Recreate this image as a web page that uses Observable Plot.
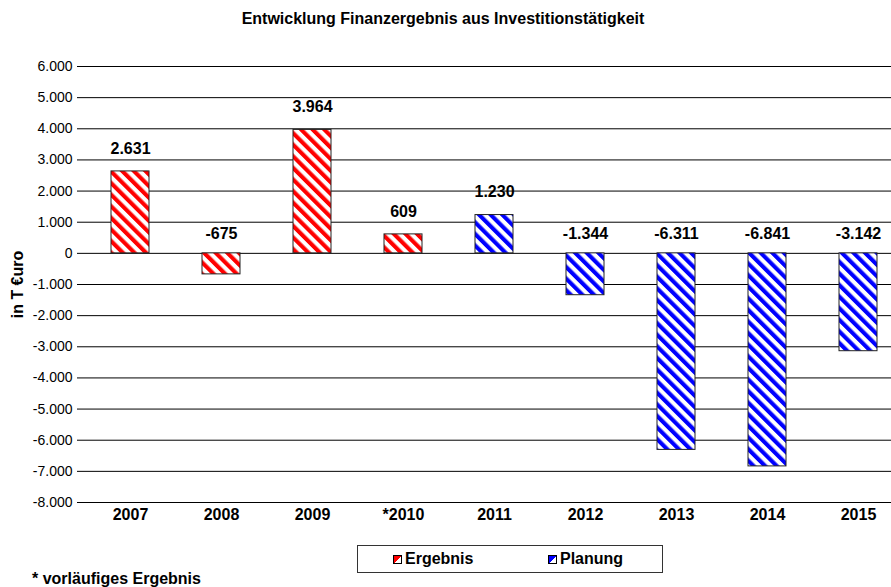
<!DOCTYPE html>
<html>
<head>
<meta charset="utf-8">
<script src="https://cdn.jsdelivr.net/npm/d3@7"></script>
<script src="https://cdn.jsdelivr.net/npm/@observablehq/plot@0.6"></script>
<style>
  html, body { margin: 0; padding: 0; background: #fff; }
  body { width: 891px; height: 587px; overflow: hidden; font-family: "Liberation Sans", Arial, sans-serif; color: #000; }
  #title { height: 40px; line-height: 38px; text-align: center; font-weight: bold; font-size: 16px; padding-right: 5px; box-sizing: border-box; }
  #bottom { position: relative; height: 57px; }
  #legend { position: absolute; left: 357px; top: 15px; width: 306px; height: 28px; box-sizing: border-box; border: 1px solid #333; }
  .item { position: absolute; top: 0; height: 26px; line-height: 26px; font-weight: bold; font-size: 16px; }
  .sw { position: absolute; top: 9px; left: 0; width: 9px; height: 9px; box-sizing: border-box; border: 1px solid #000; }
  .item span.t { position: absolute; left: 12px; white-space: nowrap; }
  #foot { position: absolute; left: 32px; top: 40px; line-height: 18px; font-weight: bold; font-size: 16px; white-space: nowrap; }
</style>
</head>
<body>
<div id="title">Entwicklung Finanzergebnis aus Investitionstätigkeit</div>
<div id="chart"></div>
<div id="bottom">
  <div id="legend"></div>
  <div id="foot"></div>
</div>
<script>
const categories = ["2007", "2008", "2009", "*2010", "2011", "2012", "2013", "2014", "2015"];
const values = [2631, -675, 3964, 609, 1230, -1344, -6311, -6841, -3142];
const series = ["Ergebnis", "Ergebnis", "Ergebnis", "Ergebnis", "Planung", "Planung", "Planung", "Planung", "Planung"];
const seriesNames = ["Ergebnis", "Planung"];
const seriesColors = ["#ff0000", "#0000ff"];
const yTicks = [-8000, -7000, -6000, -5000, -4000, -3000, -2000, -1000, 0, 1000, 2000, 3000, 4000, 5000, 6000];
const titleText = "Entwicklung Finanzergebnis aus Investitionstätigkeit";
const yLabel = "in T €uro";
const footnote = "* vorläufiges Ergebnis";

document.getElementById("title").textContent = titleText;
document.getElementById("foot").textContent = footnote;

const de = d3.formatLocale({decimal: ",", thousands: ".", grouping: [3], currency: ["", " €"], minus: "-"});
const fmt = de.format(",d");

const data = categories.map((c, i) => ({cat: c, value: values[i], series: series[i]}));
const patId = s => "pat-" + s;

const plot = Plot.plot({
  width: 891,
  height: 490,
  marginTop: 26,
  marginBottom: 28,
  marginLeft: 82,
  marginRight: 0,
  style: {fontFamily: "'Liberation Sans', Arial, sans-serif", color: "#000", background: "#fff"},
  x: {domain: categories, range: [82, 906], paddingInner: 0.585, paddingOuter: 0.295},
  y: {domain: [-8000, 6000]},
  marks: [
    Plot.ruleY(yTicks, {stroke: "#000", strokeWidth: 1}),
    ...seriesNames.map(s => Plot.barY(data.filter(d => d.series === s), {
      x: "cat", y: "value", fill: `url(#${patId(s)})`, stroke: "#222", strokeWidth: 1
    })),
    Plot.text(data.filter(d => d.value >= 0), {x: "cat", y: "value", text: d => fmt(d.value), dy: -23, fontSize: 16, fontWeight: "bold", fill: "#000"}),
    Plot.text(data.filter(d => d.value < 0), {x: "cat", y: 0, text: d => fmt(d.value), dy: -19, fontSize: 16, fontWeight: "bold", fill: "#000"}),
    Plot.ruleX([0], {x: () => null, frameAnchor: "left", stroke: "#000"}),
    Plot.axisY({ticks: yTicks, tickFormat: fmt, tickSize: 5, tickPadding: 5, fontSize: 14, label: yLabel, labelAnchor: "center", labelArrow: "none", labelOffset: 71}),
    Plot.axisX({tickSize: 0, tickPadding: 6, fontSize: 16, fontWeight: "bold", label: null})
  ]
});

// stripe patterns
const svg = d3.select(plot);
const defs = svg.insert("defs", ":first-child");
seriesNames.forEach((s, i) => {
  const p = defs.append("pattern")
    .attr("id", patId(s))
    .attr("patternUnits", "userSpaceOnUse")
    .attr("width", 8.2).attr("height", 8.2)
    .attr("patternTransform", "rotate(-45)");
  p.append("rect").attr("width", 8.2).attr("height", 8.2).attr("fill", "#fff");
  p.append("rect").attr("width", 4.1).attr("height", 8.2).attr("fill", seriesColors[i]);
});
// bold y label, nudged toward the reference position
svg.selectAll("g[aria-label='y-axis label'] text").attr("font-weight", "bold").attr("font-size", 16);

document.getElementById("chart").appendChild(plot);

// legend
const legend = document.getElementById("legend");
const legendX = [35, 190];
seriesNames.forEach((s, i) => {
  const it = document.createElement("div");
  it.className = "item";
  it.style.left = legendX[i] + "px";
  const sw = document.createElement("div");
  sw.className = "sw";
  sw.style.background = `linear-gradient(135deg, ${seriesColors[i]} 0 55%, #fff 55%)`;
  const t = document.createElement("span");
  t.className = "t";
  t.textContent = s;
  it.appendChild(sw);
  it.appendChild(t);
  legend.appendChild(it);
});
</script>
</body>
</html>
